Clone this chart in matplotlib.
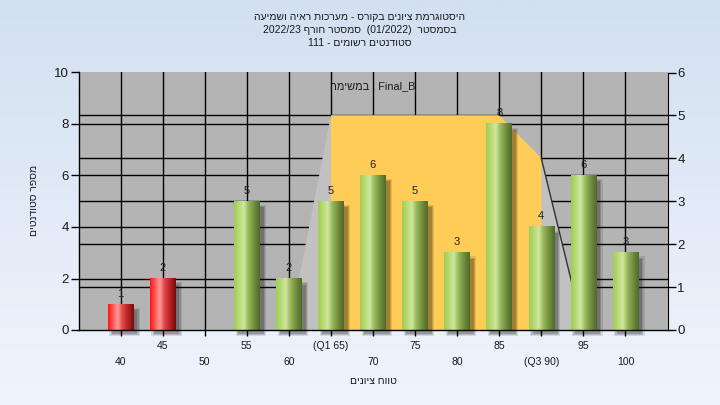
import numpy as np
import matplotlib
matplotlib.use('Agg')
import matplotlib.pyplot as plt
from matplotlib.colors import to_rgb
from matplotlib.patches import Polygon, Rectangle

# ---------------- data ----------------
grades = [40, 45, 50, 55, 60, 65, 70, 75, 80, 85, 90, 95, 100]
counts = [1, 2, 0, 5, 2, 5, 6, 5, 3, 8, 4, 6, 3]
xtick_labels = ['40', '45', '50', '55', '60', '(Q1 65)', '70', '75', '80',
                '85', '(Q3 90)', '95', '100']
fail_below = 50
left_ticks = [0, 2, 4, 6, 8, 10]
right_ticks = [0, 1, 2, 3, 4, 5, 6]
curve_grades = [60, 65, 85, 90, 95]
curve_values = [0, 5, 5, 4, 0]          # right-axis units
q1, q3 = 65, 90

plt.rcParams['font.family'] = ['Liberation Sans', 'DejaVu Sans']


def heb(word):
    """Hebrew word in visual (left-to-right glyph) order."""
    return word[::-1]


# Texts in visual order (right-to-left reading as in the reference)
title1 = heb("היסטוגרמת ציונים בקורס - מערכות ראיה ושמיעה")
title2 = "2022/23 " + heb("סמסטר חורף") + "  (01/2022)  " + heb("בסמסטר")
title3 = "111 - " + heb("סטודנטים רשומים")
inner_label = heb("במשימה") + " : Final_B"
x_title = heb("טווח ציונים")
y_title = heb("מספר סטודנטים")

W, H = 720, 405
fig = plt.figure(figsize=(W / 100, H / 100), dpi=100)

# background gradient
bg = fig.add_axes([0, 0, 1, 1], zorder=-10)
top_c = np.array(to_rgb('#d3e0f1'))
bot_c = np.array(to_rgb('#eff5fd'))
t = np.linspace(0, 1, 256)[:, None, None]
grad = top_c * (1 - t) + bot_c * t
bg.imshow(grad, aspect='auto', extent=[0, 1, 0, 1], origin='upper')
bg.set_axis_off()

# main axes
L, R, T, B = 78.5, 667.5, 72.5, 330
ax = fig.add_axes([L / W, 1 - B / H, (R - L) / W, (B - T) / H])
ax.set_facecolor('#b4b4b4')
n = len(grades)
xs = np.arange(n)
scale = 10 / 6  # right -> left units


def gx(g):
    return (g - grades[0]) / (grades[1] - grades[0])


# grid lines
for y in left_ticks[1:-1]:
    ax.axhline(y, color='black', lw=1, zorder=1)
for y in right_ticks[1:-1]:
    ax.axhline(y * scale, color='black', lw=1, zorder=1)
for x in xs:
    ax.axvline(x, color='black', lw=1, zorder=1)

# distribution polygon
poly_pts = [(gx(g), v * scale) for g, v in zip(curve_grades, curve_values)]
ax.add_patch(Polygon(poly_pts, closed=True, facecolor='#c1c1c1', edgecolor='none', zorder=2))
yel = [(gx(q1), 0)] + [(gx(g), v * scale) for g, v in zip(curve_grades, curve_values)
                       if q1 <= g <= q3] + [(gx(q3), 0)]
ax.add_patch(Polygon(yel, closed=True, facecolor='#ffcc57', edgecolor='none', zorder=3))
rx = [gx(g) for g in curve_grades if g >= q3]
ry = [v * scale for g, v in zip(curve_grades, curve_values) if g >= q3]
ax.plot(rx, ry, color='#333333', lw=1, zorder=3.5)

# bars
px_x = (R - L) / (n + 1)
px_y = (B - T) / 10
bw = 25.5 / px_x


def cyl(stops, N=64):
    pos = [p for p, _ in stops]
    cols = np.array([to_rgb(c) for _, c in stops])
    u = np.linspace(0, 1, N)
    arr = np.stack([np.interp(u, pos, cols[:, k]) for k in range(3)], axis=-1)
    return arr[None, :, :]


green = cyl([(0, '#a2cc54'), (0.18, '#b6da72'), (0.38, '#cfe7a0'), (0.55, '#9ab85c'),
             (0.8, '#6e8a3a'), (1, '#4f6a28')])
red = cyl([(0, '#ff1414'), (0.15, '#ff4a4a'), (0.38, '#ff9a9a'), (0.55, '#e04848'),
           (0.8, '#b02020'), (1, '#7a0a0a')])

dxs = 4 / px_x
dys = 4 / px_y
for x, g, c in zip(xs, grades, counts):
    if c <= 0:
        continue
    # soft shadow
    for k, a in enumerate([0.10, 0.14, 0.18]):
        e = (2 - k) * 1.2
        ax.add_patch(Rectangle((x - bw / 2 + dxs - e / px_x, -dys - e / px_y),
                               bw + 2 * e / px_x, c + 2 * e / px_y - 2 / px_y,
                               facecolor='black', alpha=a, edgecolor='none',
                               zorder=4, clip_on=False))
    img = red if g < fail_below else green
    ax.imshow(img, extent=[x - bw / 2, x + bw / 2, 0, c], aspect='auto',
              interpolation='bilinear', zorder=5)
    ax.annotate(str(c), (x, c), xytext=(0, 4), textcoords='offset points',
                ha='center', va='bottom', fontsize=8, color='#202020', zorder=6)

ax.set_xlim(-1, n)
ax.set_ylim(0, 10)

# spines / ticks
for s in ['top', 'right']:
    ax.spines[s].set_visible(False)
for s in ['left', 'bottom']:
    ax.spines[s].set_color('black')
    ax.spines[s].set_linewidth(1)
    ax.spines[s].set_zorder(7)
ax.set_xticks(xs)
ax.set_xticklabels([])
ax.tick_params(axis='x', direction='out', length=4, width=1, color='black')
ax.set_yticks(left_ticks)
ax.tick_params(axis='y', direction='out', length=6, width=1, labelsize=9.5,
               labelcolor='#1a1a1a', pad=1)

ax2 = ax.twinx()
ax2.set_ylim(0, 6)
ax2.set_yticks(right_ticks)
for s in ['top', 'left', 'bottom']:
    ax2.spines[s].set_visible(False)
ax2.spines['right'].set_color('black')
ax2.tick_params(axis='y', direction='out', length=6, width=1, labelsize=9.5,
                labelcolor='#1a1a1a', pad=1)

# staggered x labels
xt = ax.get_xaxis_transform()
for i, lab in enumerate(xtick_labels):
    ypix = 346 if i % 2 == 1 else 362
    ax.text(i, (B - ypix) / (B - T), lab, transform=xt, ha='center', va='center',
            fontsize=7.5, color='#1a1a1a', clip_on=False)

ax.text(0.5, (B - 86) / (B - T), inner_label, transform=ax.transAxes,
        ha='center', va='center', fontsize=7.8, color='#1a1a1a', zorder=8)

# titles
for y, line in zip([17, 30, 43], [title1, title2, title3]):
    fig.text(360 / W, 1 - y / H, line, ha='center', va='center',
             fontsize=7.5, color='#1a1a1a')
fig.text(373 / W, 1 - 381 / H, x_title, ha='center', va='center',
         fontsize=7.5, color='#1a1a1a')
fig.text(34 / W, 1 - 200 / H, y_title, ha='center', va='center',
         fontsize=7.5, color='#1a1a1a', rotation=90)

fig.savefig('out.png', dpi=100)
